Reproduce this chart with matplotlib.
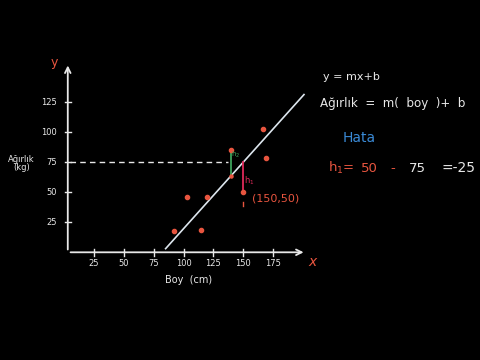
import matplotlib
matplotlib.use("Agg")
import matplotlib.pyplot as plt
import numpy as np

# ---- data ----
heights = [92, 103, 115, 120, 140, 167, 169]
weights = [18, 46, 19, 46, 85, 103, 79]
special_point = (150, 50)
line_x = [85, 201]
slope = 1.107
intercept = 75 - 1.107 * 150
x_ticks = [25, 50, 75, 100, 125, 150, 175]
y_ticks = [25, 50, 75, 100, 125]
x_label = "Boy  (cm)"
y_label = "Ağırlık\n(kg)"

WHITE = "#e8e8e8"
RED = "#e8553f"
PINK = "#e02a5a"
GREEN = "#3da35d"
BLUE = "#3a8ad6"

fig = plt.figure(figsize=(4.8, 3.6), dpi=100, facecolor="black")
ax = fig.add_axes([0, 0, 1, 1])
ax.set_facecolor("black")
# pixel mapping: x_px = 64.2 + 1.193*x ; y_px(from top) = 252.3 - 1.2*y
ax.set_xlim(-64.2 / 1.193, (480 - 64.2) / 1.193)
ax.set_ylim((252.3 - 360) / 1.2, 252.3 / 1.2)
ax.axis("off")

# axes with arrows
ax.annotate("", xy=(203, 0), xytext=(3, 0),
            arrowprops=dict(arrowstyle="->", color=WHITE, lw=1.3))
ax.annotate("", xy=(3, 158), xytext=(3, 0),
            arrowprops=dict(arrowstyle="->", color=WHITE, lw=1.3))
for t in x_ticks:
    ax.plot([t, t], [-3, 3], color=WHITE, lw=1)
    ax.text(t, -9, str(t), color=WHITE, fontsize=6, ha="center", va="center")
for t in y_ticks:
    ax.plot([1, 6], [t, t], color=WHITE, lw=1)
    ax.text(-6, t, str(t), color=WHITE, fontsize=6, ha="right", va="center")

ax.text(104, -23, x_label, color=WHITE, fontsize=7, ha="center", va="center")
ax.text(-36, 74, y_label, color=WHITE, fontsize=6, ha="center", va="center",
        linespacing=1.0)
ax.text(-8, 158, "y", color=RED, fontsize=9, ha="center", va="center")
ax.text(208, -8, "x", color=RED, fontsize=10, ha="center", va="center",
        style="italic")

# dashed line at 75
ax.plot([5, 137], [75, 75], color=WHITE, lw=1, ls=(0, (4, 3)))

# regression line
lx = np.array(line_x, dtype=float)
ax.plot(lx, slope * lx + intercept, color="#dde6ee", lw=1.2)

# points
ax.scatter(heights, weights, s=9, color=RED, zorder=3)
ax.scatter([special_point[0]], [special_point[1]], s=9, color=RED, zorder=3)

# residuals
ax.plot([150, 150], [50, slope * 150 + intercept], color=PINK, lw=1.3)
ax.plot([140, 140], [85, slope * 140 + intercept], color=GREEN, lw=1.3)
ax.scatter([140], [slope * 140 + intercept], s=5, color=RED, zorder=3)
ax.plot([150, 150], [42, 39], color=RED, lw=1)
ax.text(144, 81, "h$_2$", color=GREEN, fontsize=5, ha="center", va="center")
ax.text(155, 60, "h$_1$", color=PINK, fontsize=6, ha="center", va="center")
ax.text(157, 45, "(150,50)", color=RED, fontsize=8, ha="left", va="center")

# right side text
ax.text(217, 146, "y = mx+b", color=WHITE, fontsize=8, ha="left", va="center")
ax.text(214, 124, "Ağırlık  =  m(  boy  )+  b", color=WHITE, fontsize=8.6,
        ha="left", va="center")
ax.text(233, 95, "Hata", color=BLUE, fontsize=10, ha="left", va="center")
ax.text(221, 70, "h$_1$=", color=RED, fontsize=9.5, ha="left", va="center")
ax.text(249, 70, "50", color=RED, fontsize=9.5, ha="left", va="center")
ax.text(273, 70, "-", color=RED, fontsize=9.5, ha="left", va="center")
ax.text(289, 70, "75", color=WHITE, fontsize=9.5, ha="left", va="center")
ax.text(316, 70, "=-25", color=WHITE, fontsize=10, ha="left", va="center")

fig.savefig("out.png", dpi=100, facecolor="black")
